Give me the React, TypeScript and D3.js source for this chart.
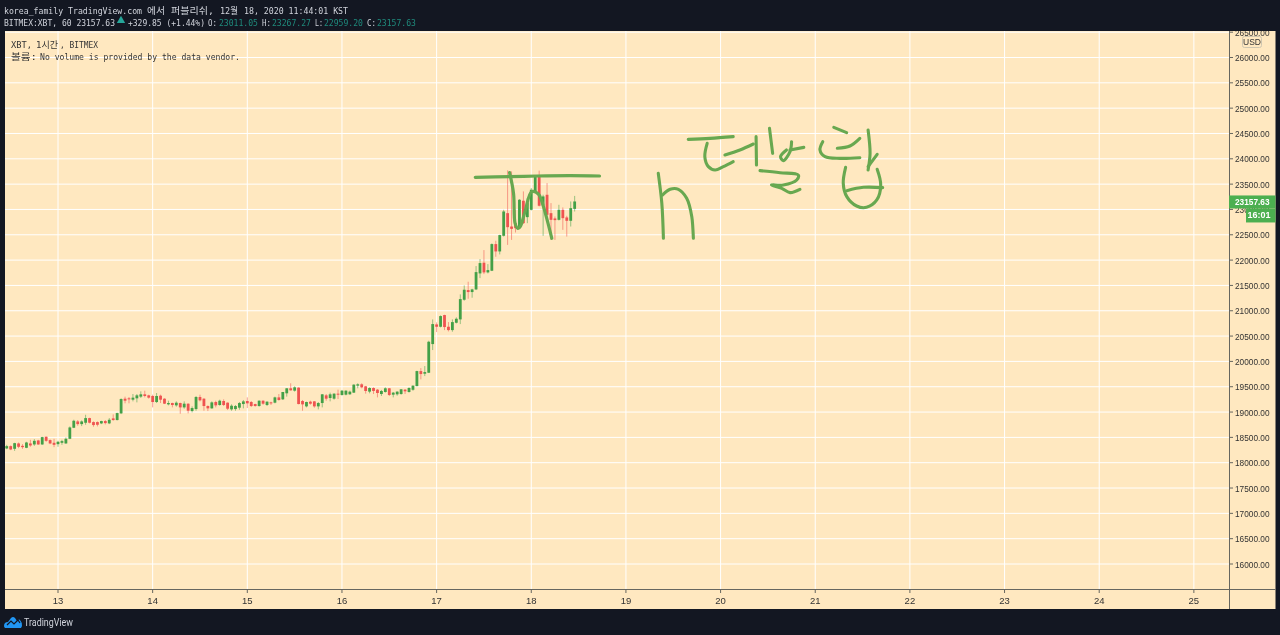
import React from "react";
import * as d3 from "d3";

const W = 1280, H = 635;
const plot = { l: 5, r: 1229, t: 31, b: 589 };
const panel = { r: 1275.5, b: 609 };

const firstHour = -13;
const opens = [18281,18327,18274,18380,18333,18294,18380,18360,18439,18360,18512,18446,18393,18366,18393,18380,18472,18690,18815,18762,18789,18881,18802,18802,18776,18822,18776,18875,18842,18974,19264,19271,19244,19271,19304,19350,19330,19317,19198,19323,19264,19152,19178,19132,19178,19092,19165,19020,19059,19297,19264,19119,19073,19198,19139,19218,19185,19053,19059,19086,19158,19218,19198,19158,19119,19224,19139,19191,19185,19290,19251,19370,19469,19422,19482,19218,19112,19205,19211,19112,19178,19330,19277,19264,19363,19337,19343,19350,19383,19521,19548,19508,19403,19475,19442,19356,19396,19469,19343,19350,19356,19442,19396,19440,19513,19809,19757,19776,20342,20730,20684,20915,20684,20618,20763,20829,21217,21408,21369,21421,21737,21948,21757,21790,22316,22171,22480,22927,22663,22730,22630,23172,22848,22993,23356,23653,23079,23290,22927,22822,22795,22993,22842,22776,23011.05];
const highs = [18353,18340,18393,18399,18366,18413,18452,18465,18452,18512,18518,18459,18472,18432,18452,18498,18716,18848,18842,18835,18947,18888,18815,18815,18828,18842,18881,18954,18987,19271,19304,19297,19356,19356,19409,19422,19343,19343,19376,19343,19271,19224,19185,19211,19185,19211,19172,19112,19317,19343,19271,19132,19211,19224,19244,19251,19191,19152,19139,19198,19238,19290,19218,19165,19231,19231,19211,19205,19304,19356,19396,19469,19568,19508,19488,19238,19205,19224,19218,19198,19356,19356,19383,19370,19442,19436,19429,19422,19548,19568,19568,19515,19488,19488,19455,19436,19488,19475,19396,19409,19455,19455,19488,19530,19816,19868,19908,20408,20829,20770,20908,20921,20776,20829,20869,21323,21500,21573,21434,21882,22020,22198,21921,22329,22382,22500,22993,23772,23752,22993,23205,23356,23224,23422,23667,23766,23290,23521,23125,22861,23092,23040,22875,23158,23267.27];
const lows = [18267,18248,18234,18287,18274,18287,18314,18333,18353,18353,18413,18366,18307,18314,18353,18373,18465,18683,18729,18723,18749,18776,18710,18716,18762,18756,18762,18828,18835,18960,19172,19172,19211,19191,19277,19290,19264,19092,19178,19178,19158,19132,19092,19106,18967,19066,18974,18993,19026,19211,19026,19020,19066,19092,19125,19119,19040,19026,19026,19046,19073,19079,19099,19106,19106,19145,19119,19139,19172,19224,19238,19304,19422,19403,19152,19026,19092,19145,19086,19053,19092,19224,19211,19244,19257,19323,19330,19343,19376,19469,19469,19363,19370,19356,19290,19317,19383,19317,19290,19323,19343,19356,19383,19420,19507,19645,19710,19770,20224,20579,20671,20618,20592,20586,20750,20737,21198,21237,21257,21408,21645,21724,21737,21783,22066,22112,22465,22300,22399,22545,22617,22716,22729,22980,23323,23059,22479,22795,22399,22399,22782,22597,22465,22663,22959.2];
const closes = [18327,18261,18386,18314,18307,18399,18340,18432,18360,18505,18432,18380,18353,18413,18426,18472,18696,18828,18762,18815,18881,18789,18743,18749,18822,18782,18848,18842,18980,19257,19224,19251,19284,19330,19350,19317,19284,19198,19317,19244,19165,19178,19139,19185,19092,19165,19026,19079,19297,19231,19119,19073,19191,19132,19224,19139,19066,19125,19119,19178,19211,19172,19119,19119,19224,19165,19205,19178,19290,19238,19396,19469,19429,19488,19158,19152,19198,19165,19112,19178,19350,19264,19350,19363,19343,19422,19422,19403,19541,19548,19488,19416,19475,19416,19376,19416,19469,19337,19383,19403,19449,19409,19475,19520,19809,19750,19789,20388,20737,20684,20895,20678,20618,20776,20842,21230,21415,21369,21421,21763,21941,21757,21803,22316,22171,22494,22960,22650,22617,22630,23191,22729,23125,23389,23653,23073,23257,22894,22795,22789,22993,22828,22776,23026,23157.63];

const priceTicks = d3.range(16000, 26501, 500);
const dayLabels = [13,14,15,16,17,18,19,20,21,22,23,24,25];

const topLine: [number, number][] = [[105.8,23634],[114.6,23647],[121.4,23660],[129.9,23667],[137.3,23660]];
const zigzag: [number, number][] = [[114.5,23726],[115.5,23318],[115.9,22726],[116.6,22627],[117.2,22660],[118.4,22956],[120.1,23351],[121.8,23305],[122.7,23153],[123.8,22857],[125.2,22430]];
const inkH1: [number, number][] = [[152.2,23713],[153.1,23121],[153.5,22430]];
const inkH2: [number, number][] = [[153.3,23285],[155.2,23397],[157.3,23397],[159.4,23220],[160.7,22858],[161.1,22430]];
const inkA: [number, number][] = [[159.8,24384],[165.3,24404],[171.2,24437]];
const inkB: [number, number][] = [[164.6,24305],[164.0,24042],[164.9,23845],[166.6,23779],[168.7,23845],[171.2,23944]];
const inkC: [number, number][] = [[169.1,24075],[172.9,24174],[176.3,24292]];
const inkD: [number, number][] = [[177.0,24437],[177.1,23878]];
const inkE: [number, number][] = [[180.4,24601],[181.2,24108]];
const inkF: [number, number][] = [[184.7,24174],[183.2,24042],[183.9,23963],[185.6,24141],[186.0,24338]];
const inkG: [number, number][] = [[185.6,24174],[189.1,24226]];
const inkI: [number, number][] = [[178.0,23766],[183.1,23726],[187.7,23680],[187.3,23582],[183.9,23483],[180.9,23483],[183.5,23417],[185.6,23332],[188.1,23397]];
const inkJ: [number, number][] = [[196.7,24621],[199.96,24516]];
const inkK: [number, number][] = [[203.3,24404],[200.8,24253],[197.6,24207]];
const inkL: [number, number][] = [[193.9,24338],[193.2,24174],[194.5,24042],[198.3,24009],[203.3,24022]];
const inkM: [number, number][] = [[205.4,24569],[205.9,24108],[205.4,23779]];
const inkN: [number, number][] = [[207.7,24088],[205.4,23845]];
const inkO: [number, number][] = [[199.7,23832],[199.1,23516],[200,23253],[202.5,23068],[205,23042],[207.6,23187],[208.6,23483],[207.7,23792]];
const inkP: [number, number][] = [[200,23371],[204.2,23437],[209.1,23430]];
const strokes = [inkH1,inkH2,inkA,inkB,inkC,inkD,inkE,inkF,inkG,inkI,inkJ,inkK,inkL,inkM,inkN,inkO,inkP];

const BG = "#131722", PANEL = "#ffe8c0", UP = "#43a047", DOWN = "#ef5350", INK = "#68a850", TEXT = "#d1d4dc", DARK = "#333333", TEAL = "#1f8a7c", AXIS = "#66665f";
const MONO = "'DejaVu Sans Mono','Noto Sans CJK KR',monospace";
const SANS = "'Liberation Sans',sans-serif";

export default function App() {
  React.useLayoutEffect(() => {
    document.body.style.margin = "0";
    document.body.style.background = BG;
  }, []);
  const x = d3.scaleLinear().domain([0, 288]).range([58, 58 + 288 * 3.944]);
  const y = d3.scaleLinear().domain([16000, 26000]).range([564, 57.5]);
  const ink = d3.line<[number, number]>().x(d => x(d[0])).y(d => y(d[1])).curve(d3.curveCatmullRom.alpha(0.5));
  const lastY = y(closes[closes.length - 1]);
  const t = (s: string, px: number, py: number, len: number, fill: string, size = 9.5) => (
    <text x={px} y={py} textLength={len} lengthAdjust="spacingAndGlyphs" fill={fill} fontFamily={MONO} fontSize={size} dominantBaseline="central">{s}</text>
  );
  return (
    <svg width={W} height={H} style={{ display: "block", filter: "blur(0.3px)" }}>
      <defs>
        <clipPath id="pa"><rect x={plot.r} y={plot.t} width={panel.r - plot.r} height={plot.b - plot.t} /></clipPath>
      </defs>
      <rect width={W} height={H} fill={BG} />
      <rect x={plot.l} y={plot.t} width={panel.r - plot.l} height={panel.b - plot.t} fill={PANEL} />
      {priceTicks.map(p => <line key={p} x1={plot.l} x2={plot.r} y1={y(p)} y2={y(p)} stroke="#fff" />)}
      {dayLabels.map(d => <line key={d} x1={x((d - 13) * 24)} x2={x((d - 13) * 24)} y1={plot.t} y2={plot.b} stroke="#fff" />)}

      {t("XBT, ", 11, 44, 21, DARK)}{t("1시간", 36, 44, 22, DARK)}{t(", BITMEX", 60, 44, 38, DARK)}
      {t("볼륨:", 11, 56, 26, DARK)}{t("No volume is provided by the data vendor.", 40, 56, 200, DARK)}

      {opens.map((o, i) => {
        const c = closes[i], cx = x(firstHour + i), col = c >= o ? UP : DOWN;
        const top = y(Math.max(o, c)), bot = y(Math.min(o, c));
        return (
          <g key={i}>
            <line x1={cx} x2={cx} y1={y(highs[i])} y2={y(lows[i])} stroke={col} strokeOpacity={0.55} />
            <rect x={cx - 1.4} width={2.8} y={top} height={Math.max(1, bot - top)} fill={col} />
          </g>
        );
      })}

      {[topLine, zigzag].map((s, i) => <path key={i} d={ink(s) ?? ""} fill="none" stroke={INK} strokeWidth={3.2} strokeLinecap="round" strokeLinejoin="round" />)}
      {strokes.map((s, i) => <path key={i} d={ink(s) ?? ""} fill="none" stroke={INK} strokeWidth={3.1} strokeLinecap="round" strokeLinejoin="round" />)}

      <line x1={plot.r + 0.5} x2={plot.r + 0.5} y1={plot.t} y2={panel.b} stroke={AXIS} />
      <line x1={plot.l} x2={panel.r} y1={plot.b + 0.5} y2={plot.b + 0.5} stroke={AXIS} />
      <g clipPath="url(#pa)">
        {priceTicks.map(p => (
          <g key={p}>
            <line x1={plot.r} x2={plot.r + 4} y1={y(p)} y2={y(p)} stroke={AXIS} />
            <text x={1235} y={y(p)} textLength={34.5} lengthAdjust="spacingAndGlyphs" fontFamily={SANS} fontSize={9.5} fill={DARK} dominantBaseline="central">{d3.format(".2f")(p)}</text>
          </g>
        ))}
      </g>
      {dayLabels.map(d => (
        <g key={d}>
          <line x1={x((d - 13) * 24)} x2={x((d - 13) * 24)} y1={plot.b} y2={plot.b + 4} stroke={AXIS} />
          <text x={x((d - 13) * 24)} y={600} textAnchor="middle" fontFamily={SANS} fontSize={9.5} fill={DARK} dominantBaseline="central">{d}</text>
        </g>
      ))}

      <rect x={1242.5} y={36.5} width={19} height={11} rx={2} fill={PANEL} stroke="#cfc6b0" />
      <text x={1252} y={42} textAnchor="middle" fontFamily={SANS} fontSize={8.5} fill={DARK} dominantBaseline="central">USD</text>

      <rect x={plot.r} y={lastY - 6} width={panel.r - plot.r} height={13} fill="#4caf50" />
      <rect x={1246} y={lastY + 7} width={panel.r - 1246} height={14} fill="#4caf50" />
      <text x={1235} y={lastY + 0.5} textLength={34.5} lengthAdjust="spacingAndGlyphs" fontFamily={SANS} fontSize={9.5} fontWeight={700} fill="#fff" dominantBaseline="central">{d3.format(".2f")(closes[closes.length - 1])}</text>
      <text x={1259} y={lastY + 14} textAnchor="middle" fontFamily={SANS} fontSize={9} fontWeight={700} fill="#fff" dominantBaseline="central">16:01</text>

      {t("korea_family TradingView.com", 4, 10, 138, TEXT)}
      {t("에서", 147, 10, 18, TEXT)}
      {t("퍼블리쉬,", 171, 10, 43, TEXT)}
      {t("12월", 220, 10, 18, TEXT)}
      {t("18, 2020 11:44:01 KST", 244, 10, 104, TEXT)}
      {t("BITMEX:XBT, 60 23157.63", 4, 22, 111, TEXT)}
      <path d={d3.symbol().type(d3.symbolTriangle).size(30)() ?? ""} transform="translate(121,20.5)" fill="#26a69a" />
      {t("+329.85 (+1.44%)", 128, 22, 77, TEXT)}
      {t("O:", 208, 22, 9, TEXT)}{t("23011.05", 219, 22, 39, TEAL)}
      {t("H:", 262, 22, 9, TEXT)}{t("23267.27", 272, 22, 39, TEAL)}
      {t("L:", 315, 22, 8, TEXT)}{t("22959.20", 324, 22, 39, TEAL)}
      {t("C:", 367, 22, 9, TEXT)}{t("23157.63", 377, 22, 39, TEAL)}

      <path d="M4 626 q0 -4 4 -4 l3 -4 q2 -2 4 0 l2 3 l1 -1 q1 -1 2 0 q2 2 2 6 l-1 2 h-16 q-1 -1 -1 -2z" fill="#2196f3" />
      <path d="M7 625 l4 -4 l3 3 l4 -4 l2 3" fill="none" stroke={BG} strokeWidth={1.2} />
      <text x={24} y={622} textLength={49} lengthAdjust="spacingAndGlyphs" fontFamily="Roboto,sans-serif" fontSize={10.5} fill={TEXT} dominantBaseline="central">TradingView</text>
    </svg>
  );
}
